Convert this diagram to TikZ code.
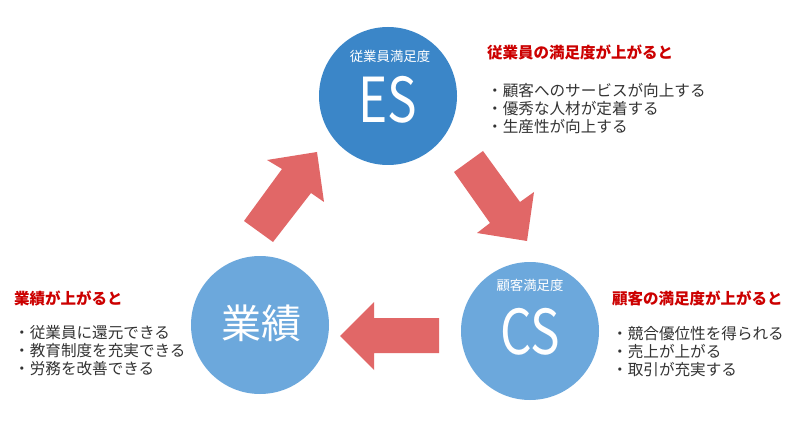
\documentclass[tikz,border=0pt]{standalone}
\usepackage{fontspec}
\setmainfont{Noto Sans CJK JP}
\definecolor{esblue}{HTML}{3B86C8}
\definecolor{lightblue}{HTML}{6CA8DC}
\definecolor{arrowred}{HTML}{E16767}
\definecolor{titlered}{HTML}{CC0000}
\definecolor{bodygray}{HTML}{333333}
\begin{document}
\begin{tikzpicture}[x=1pt,y=-1pt,
  circ/.style={circle, minimum size=138pt, inner sep=0pt, draw=none},
  bigarrow/.style={fill=arrowred, draw=none},
  sublabel/.style={text=white, font=\fontsize{13.4}{13.4}\selectfont, inner sep=0pt},
  biglabel/.style={text=white, font=\fontsize{62}{62}\selectfont, inner sep=0pt},
  titletext/.style={text=titlered, font=\bfseries\fontsize{15.5}{15.5}\selectfont, anchor=west, inner sep=0pt},
  itemtext/.style={text=bodygray, font=\fontsize{15.6}{15.6}\selectfont, anchor=west, inner sep=0pt}]
\useasboundingbox[fill=white] (0,0) rectangle (800,422);

% circles
\node[circ, fill=esblue] (es) at (388,96) {};
\node[circ, fill=lightblue] (cs) at (530,331) {};
\node[circ, fill=lightblue] (gy) at (260,325) {};

% circle texts
\node[sublabel] (esl) at (390,56) {従業員満足度};
\node[biglabel] (est) at (388,100) {\scalebox{0.8}[1]{ES}};
\node[sublabel] (csl) at (530,285) {顧客満足度};
\node[biglabel] (cst) at (530,332) {\scalebox{0.8}[1]{CS}};
\node[text=white, font=\fontsize{40}{40}\selectfont, inner sep=0pt] (gyt) at (261,323) {業績};

% arrows
\fill[bigarrow] (244,221) -- (282,169) -- (267,160) -- (317,152) -- (324,202) -- (311,193) -- (273,242) -- cycle;
\fill[bigarrow] (454,172) -- (483,151) -- (520,202) -- (534,192) -- (527,241) -- (477,233) -- (490,223) -- cycle;
\fill[bigarrow] (439,318) -- (374,318) -- (374,302) -- (340,336) -- (374,370) -- (374,353) -- (439,353) -- cycle;

% ES text block
\node[titletext] (est1) at (487,52) {従業員の満足度が上がると};
\node[itemtext] (esi1) at (487,91) {・顧客へのサービスが向上する};
\node[itemtext] (esi2) at (487,109) {・優秀な人材が定着する};
\node[itemtext] (esi3) at (487,127) {・生産性が向上する};

% CS text block
\node[titletext] (cst1) at (612,298) {顧客の満足度が上がると};
\node[itemtext] (csi1) at (612,334) {・競合優位性を得られる};
\node[itemtext] (csi2) at (612,352) {・売上が上がる};
\node[itemtext] (csi3) at (612,370) {・取引が充実する};

% 業績 text block
\node[titletext] (gyt1) at (14,298) {業績が上がると};
\node[itemtext] (gyi1) at (14,333) {・従業員に還元できる};
\node[itemtext] (gyi2) at (14,351) {・教育制度を充実できる};
\node[itemtext] (gyi3) at (14,369) {・労務を改善できる};
\end{tikzpicture}
\end{document}
